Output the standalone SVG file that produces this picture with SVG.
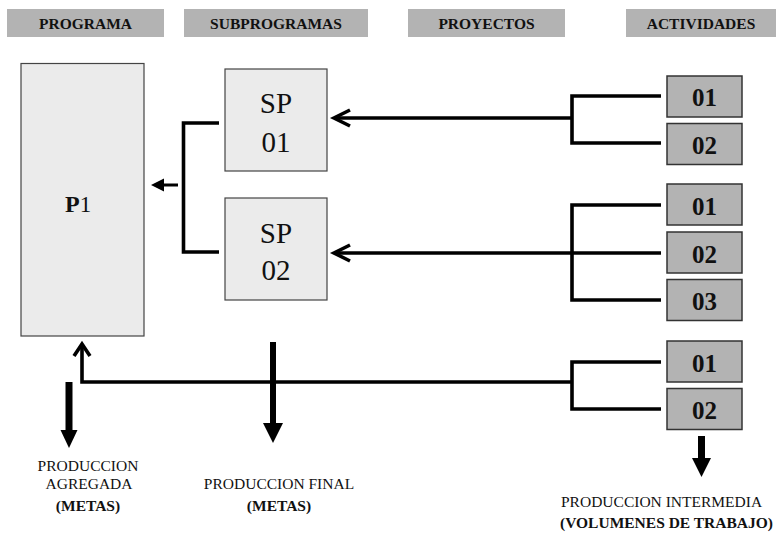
<svg xmlns="http://www.w3.org/2000/svg" width="780" height="533" viewBox="0 0 780 533">
<style>
text{font-family:"Liberation Serif","Times New Roman",serif;fill:#111}
.hdr{fill:#b3b3b3}
.ht{font-weight:bold;font-size:15.5px;text-anchor:middle}
.lite{fill:#ebebeb;stroke:#444;stroke-width:1.2}
.act{fill:#b3b3b3;stroke:#333;stroke-width:1.5}
.at{font-weight:bold;font-size:25px;text-anchor:middle}
.sp{font-size:29px;text-anchor:middle}
.ln{fill:none;stroke:#000;stroke-width:3.6}
.lab{font-size:15.5px}
.labb{font-size:15.5px;font-weight:bold}
</style>
<rect width="780" height="533" fill="#fff"/>
<g id="headers">
<rect class="hdr" x="7" y="9" width="157" height="28"/>
<text class="ht" x="85.5" y="29">PROGRAMA</text>
<rect class="hdr" x="184" y="9" width="184" height="28"/>
<text class="ht" x="276" y="29">SUBPROGRAMAS</text>
<rect class="hdr" x="408" y="9" width="157" height="28"/>
<text class="ht" x="486.5" y="29">PROYECTOS</text>
<rect class="hdr" x="626" y="9" width="150" height="28"/>
<text class="ht" x="701" y="29">ACTIVIDADES</text>
</g>
<g id="P1">
<rect class="lite" x="21" y="63.5" width="123" height="272.5"/>
<text x="65" y="212"><tspan font-weight="bold" font-size="24">P</tspan><tspan font-size="23">1</tspan></text>
</g>
<g id="SP01">
<rect class="lite" x="225" y="69" width="102" height="102"/>
<text class="sp" x="276" y="113">SP</text>
<text class="sp" x="276" y="152">01</text>
</g>
<g id="SP02">
<rect class="lite" x="225" y="198" width="102" height="102"/>
<text class="sp" x="276" y="243">SP</text>
<text class="sp" x="276" y="280">02</text>
</g>
<g id="A1-01"><rect class="act" x="667" y="76" width="75" height="41"/><text class="at" x="704.5" y="105.5">01</text></g>
<g id="A1-02"><rect class="act" x="667" y="123.5" width="75" height="41"/><text class="at" x="704.5" y="153.5">02</text></g>
<g id="A2-01"><rect class="act" x="667" y="184" width="75" height="41"/><text class="at" x="704.5" y="214.5">01</text></g>
<g id="A2-02"><rect class="act" x="667" y="232" width="75" height="41"/><text class="at" x="704.5" y="262.5">02</text></g>
<g id="A2-03"><rect class="act" x="667" y="279.5" width="75" height="41"/><text class="at" x="704.5" y="310">03</text></g>
<g id="A3-01"><rect class="act" x="667" y="341" width="75" height="41"/><text class="at" x="704.5" y="371.5">01</text></g>
<g id="A3-02"><rect class="act" x="667" y="388.5" width="75" height="41"/><text class="at" x="704.5" y="418.5">02</text></g>
<g id="connectors">
<polyline class="ln" points="219,123 183.5,123 183.5,252 219,252"/>
<line x1="178" y1="185" x2="160" y2="185" stroke="#000" stroke-width="3"/>
<polygon points="151,185 164,178.5 164,191.5" fill="#000"/>
<polyline class="ln" points="661,96 572,96 572,143 661,143"/>
<line class="ln" x1="572" y1="118" x2="334" y2="118"/>
<polyline class="ln" points="350,110 334,118 350,126"/>
<polyline class="ln" points="661,205 572,205 572,300 661,300"/>
<line class="ln" x1="661" y1="253" x2="334" y2="253"/>
<polyline class="ln" points="350,245 334,253 350,261"/>
<polyline class="ln" points="661,362 572,362 572,409 661,409"/>
<polyline class="ln" points="572,382 82,382 82,345"/>
<polyline class="ln" points="74,356 82,344 90,356"/>
<line x1="69" y1="382" x2="69" y2="432" stroke="#000" stroke-width="7"/>
<polygon points="60.5,430 77.5,430 69,448" fill="#000"/>
<line x1="273" y1="342" x2="273" y2="425" stroke="#000" stroke-width="6"/>
<polygon points="263,423 283,423 273,443" fill="#000"/>
<line x1="701.5" y1="436" x2="701.5" y2="460" stroke="#000" stroke-width="7"/>
<polygon points="692,458 711,458 701.5,477" fill="#000"/>
</g>
<g id="labels">
<text class="lab" x="88" y="471" text-anchor="middle">PRODUCCION</text>
<text class="lab" x="89" y="489" text-anchor="middle">AGREGADA</text>
<text class="labb" x="88" y="511" text-anchor="middle">(METAS)</text>
<text class="lab" x="279" y="489" text-anchor="middle">PRODUCCION FINAL</text>
<text class="labb" x="279" y="511" text-anchor="middle">(METAS)</text>
<text class="lab" x="561" y="507">PRODUCCION INTERMEDIA</text>
<text class="labb" x="560" y="528">(VOLUMENES DE TRABAJO)</text>
</g>
</svg>
